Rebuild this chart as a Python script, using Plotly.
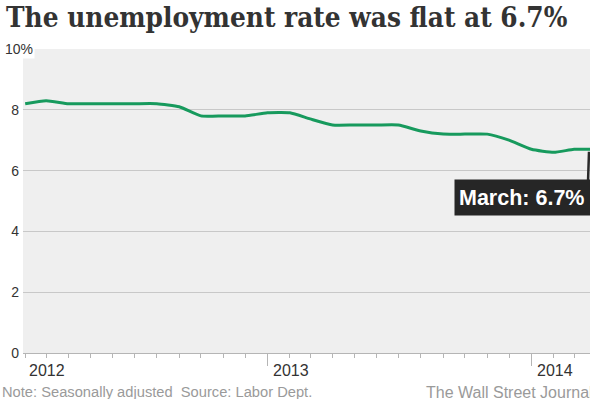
import plotly.graph_objects as go
import pandas as pd

months = ["2012-01","2012-02","2012-03","2012-04","2012-05","2012-06","2012-07","2012-08","2012-09","2012-10","2012-11","2012-12",
          "2013-01","2013-02","2013-03","2013-04","2013-05","2013-06","2013-07","2013-08","2013-09","2013-10","2013-11","2013-12",
          "2014-01","2014-02","2014-03"]
rate = [8.2,8.3,8.2,8.2,8.2,8.2,8.2,8.1,7.8,7.8,7.8,7.9,
        7.9,7.7,7.5,7.5,7.5,7.5,7.3,7.2,7.2,7.2,7.0,6.7,
        6.6,6.7,6.7]
y_ticks = [0, 2, 4, 6, 8, 10]
y_text = ["0", "2", "4", "6", "8", ""]
years = ["2012", "2013", "2014"]

# plot each month at its end (start of following month)
x_dates = [pd.Period(m, "M").end_time.normalize() + pd.Timedelta(days=1) for m in months]

GREEN = "#179a5d"
fig = go.Figure()
fig.add_trace(go.Scatter(x=x_dates, y=rate, mode="lines",
                         line=dict(color=GREEN, width=3, shape="spline", smoothing=0.5),
                         hoverinfo="skip"))

L, R, T, B = 23, 0, 49, 46
PW = 590 - L - R
PH = 399 - T - B
fig.update_layout(
    width=590, height=399,
    margin=dict(l=L, r=R, t=T, b=B, pad=0),
    paper_bgcolor="white", plot_bgcolor="#efefef",
    showlegend=False,
    font=dict(family="Liberation Sans, Arial, sans-serif", color="#333"),
    xaxis=dict(
        type="date",
        range=["2012-01-29", "2014-03-23"],
        showgrid=False, zeroline=False,
        showline=True, linecolor="#b5b5b5", linewidth=1,
        ticks="outside", ticklen=12, tickcolor="#b5b5b5", tickwidth=1,
        tick0="2012-01-01", dtick="M12",
        showticklabels=False,
        minor=dict(ticks="outside", ticklen=4, tickcolor="#b5b5b5", dtick="M1", tick0="2012-01-01", showgrid=False),
        fixedrange=True,
    ),
    yaxis=dict(
        range=[0, 10],
        tickvals=y_ticks, ticktext=y_text,
        showgrid=True, gridcolor="#c8c8c8", gridwidth=1,
        zeroline=False, showline=False, ticks="",
        tickfont=dict(size=14, color="#333"),
        ticklabelstandoff=3,
        fixedrange=True,
    ),
)

# title
fig.add_annotation(text="<b>The unemployment rate was flat at 6.7%</b>",
                   xref="paper", yref="paper", x=(4 - L)/PW, y=1 + T/PH,
                   xanchor="left", yanchor="top", showarrow=False, yshift=1,
                   font=dict(family="DejaVu Serif Condensed, DejaVu Serif, serif", size=27.7, color="#333"))

# 10% label
fig.add_annotation(text="10%", xref="paper", yref="y", x=(3 - L)/PW, y=10,
                   xanchor="left", yanchor="middle", showarrow=False,
                   bgcolor="white", borderpad=1,
                   font=dict(size=14, color="#333"))

# year labels
year_pos = ["2012-01-29", "2013-01-01", "2014-01-01"]
for yr, pos in zip(years, year_pos):
    fig.add_annotation(text=yr, x=pos, xref="x", yref="paper", y=0, yshift=-17,
                       xanchor="left", yanchor="middle", xshift=4, showarrow=False,
                       font=dict(size=16, color="#333"))

# footer
fig.add_annotation(text="Note: Seasonally adjusted  Source: Labor Dept.", xref="paper", yref="paper",
                   x=(0 - L)/PW, y=0, yshift=-39, xanchor="left", yanchor="middle", showarrow=False,
                   font=dict(size=14.7, color="#9a9a9a"))
fig.add_annotation(text="The Wall Street Journal", xref="paper", yref="paper",
                   x=(424 - L)/PW, y=0, yshift=-39, xanchor="left", yanchor="middle", showarrow=False,
                   font=dict(size=16, color="#9a9a9a"))

# callout pointer
fig.add_annotation(text="", xref="paper", yref="y", x=(589 - L)/PW, y=6.62,
                   showarrow=True, arrowhead=0, arrowwidth=2.5, arrowcolor="#2a2a2a",
                   ax=-1, ay=30)
# callout box
fig.add_annotation(text="<b>March: %.1f%%</b>" % rate[-1], xref="paper", yref="paper",
                   x=(453 - L)/PW, y=(353 - 197)/PH, xanchor="left", yanchor="middle", xshift=1,
                   showarrow=False, bgcolor="#262626", width=140, align="left", height=27, borderpad=4,
                   font=dict(size=21.5, color="white"))

fig.write_html("out.html", config={"displayModeBar": False},
               post_script="document.body.style.margin='0';document.body.style.overflow='hidden';")
